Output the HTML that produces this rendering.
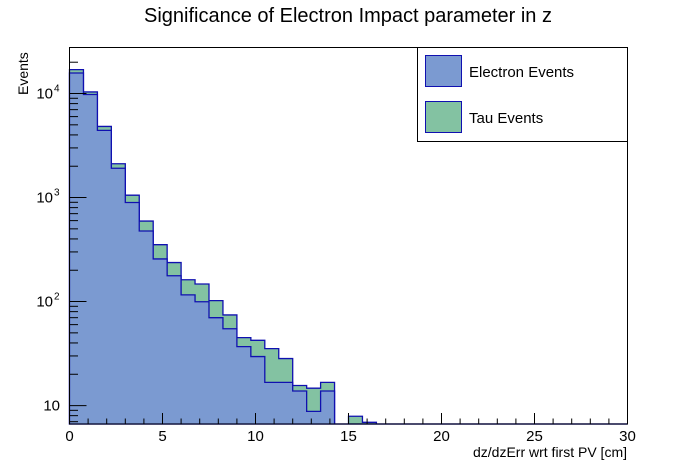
<!DOCTYPE html>
<html><head><meta charset="utf-8"><style>
body{margin:0;background:#fff;}
svg{display:block;font-family:"Liberation Sans",sans-serif;}
</style></head><body>
<svg id="chart" width="696" height="472" viewBox="0 0 696 472">
<rect x="0" y="0" width="696" height="472" fill="#fff"/>
<text x="348" y="22" font-size="20" text-anchor="middle">Significance of Electron Impact parameter in z</text>
<g id="bars"></g>
<g id="axes"></g>
<text x="627" y="457" font-size="14" text-anchor="end">dz/dzErr wrt first PV [cm]</text>
<text transform="translate(28,95) rotate(-90)" font-size="14" text-anchor="start">Events</text>
<g>
<rect x="417.5" y="47.5" width="210" height="94" fill="#fff" stroke="#000" stroke-width="1"/>
<g>
<rect x="425.5" y="55.5" width="36" height="31" fill="#7b9ad1" stroke="#1010b0"/>
<text x="469" y="77" font-size="15">Electron Events</text>
</g>
<g>
<rect x="425.5" y="101.5" width="36" height="31" fill="#83c2a2" stroke="#1010b0"/>
<text x="469" y="123" font-size="15">Tau Events</text>
</g>
</g>
</svg>
<script>
const binWidth = 0.75;
const electronCounts = [15740,9780,4425,1914,896,477,257,177,116,99.5,70,54.8,36.9,29.6,16.7,16.7,13.8,8.8,13.8,0,0,0,0,0,0,0,0,0,0,0,0,0,0,0,0,0,0,0,0,0];
const tauCounts = [1240,580,400,200,158,117,95,60,46,48,32,19.6,8.1,12.8,18.6,11.6,1.8,5.9,2.9,0,7.9,6.9,0,0,0,0,0,0,0,0,0,0,0,0,0,0,0,0,0,0];
const xTicks = [0,5,10,15,20,25,30];
const yTickExps = [1,2,3,4];

const X0=69.5, X1=627.5, Y0=424, Y1=47.5;
const xMin=0, xMax=30;
const yLogMin=Math.log10(6.65), yLogMax=Math.log10(27700);
function xs(v){return X0+(v-xMin)/(xMax-xMin)*(X1-X0);}
function ys(v){if(v<=6.65)return Y0;const l=Math.min(Math.log10(v),yLogMax);return Y0-(l-yLogMin)/(yLogMax-yLogMin)*(Y0-Y1);}
const NS="http://www.w3.org/2000/svg";
const bars=document.getElementById('bars'), axes=document.getElementById('axes');
function mk(tag,attrs,parent){const e=document.createElementNS(NS,tag);for(const k in attrs)e.setAttribute(k,attrs[k]);parent.appendChild(e);return e;}

function stepPath(vals){
  let d=`M${xs(0)},${Y0}`;
  for(let i=0;i<vals.length;i++){const y=ys(vals[i]);d+=` L${xs(i*binWidth)},${y} L${xs((i+1)*binWidth)},${y}`;}
  d+=` L${xs(vals.length*binWidth)},${Y0} Z`;return d;
}
const totals=electronCounts.map((v,i)=>v+tauCounts[i]);
const tauP=mk('path',{d:stepPath(totals),fill:'#83c2a2',stroke:'#1010b0','stroke-width':1.3},bars);


const eP=mk('path',{d:stepPath(electronCounts),fill:'#7b9ad1',stroke:'#1010b0','stroke-width':1.3},bars);



// frame
const fr=mk('rect',{x:X0,y:Y1,width:X1-X0,height:Y0-Y1,fill:'none',stroke:'#000','stroke-width':1},axes);


// x ticks
for(let v=0;v<=30;v++){
  const t=mk('line',{x1:xs(v),x2:xs(v),y1:Y0,y2:Y0-(v%5===0?11:5.5),stroke:'#000'},axes);
  
  
}
xTicks.forEach(v=>{
  const t=mk('text',{x:xs(v),y:441,'font-size':15,'text-anchor':'middle'},axes);
  t.textContent=String(v);
  
  
});
// y ticks
for(let e=0;e<=4;e++){for(let m=1;m<=9;m++){
  const v=m*Math.pow(10,e);
  if(v<6.65||v>27700)continue;
  const y=ys(v);
  const t=mk('line',{x1:X0,x2:X0+(m===1?17:8.5),y1:y,y2:y,stroke:'#000'},axes);
  
  
}}
yTickExps.forEach(e=>{
  const y=ys(Math.pow(10,e));
  const t=mk('text',{x:e===1?60:53,y:y+5,'font-size':15,'text-anchor':'end'},axes);
  t.textContent='10';
  
  
  if(e>1){
    const s=mk('text',{x:54,y:y-2,'font-size':10,'text-anchor':'start'},axes);
    s.textContent=String(e);
    
    
  }
});
</script>
</body></html>
